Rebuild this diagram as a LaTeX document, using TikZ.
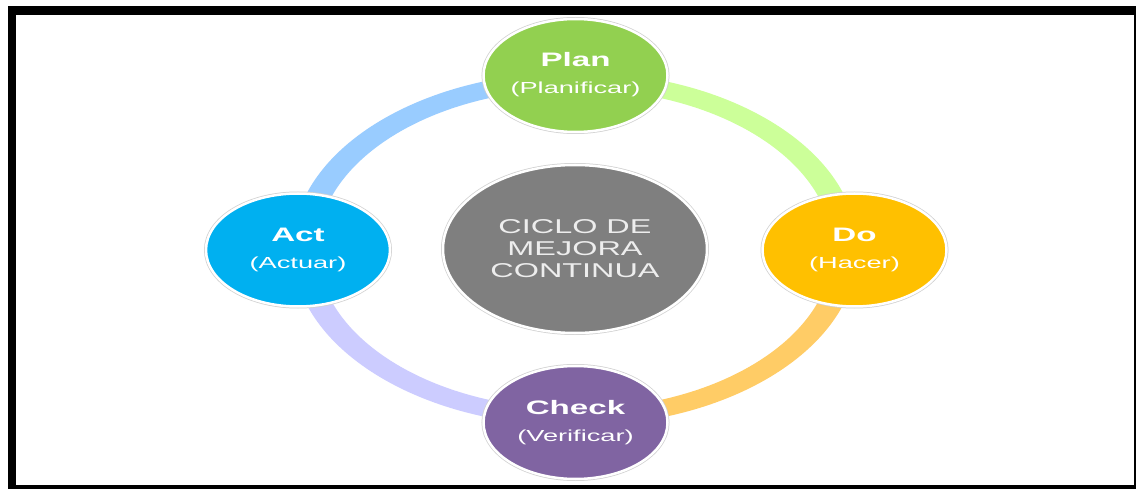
\documentclass[tikz,border=0pt]{standalone}
\usepackage{fontspec}
\setmainfont{Liberation Sans}
\usepackage{graphicx}
\usetikzlibrary{shapes.geometric}
\definecolor{planc}{HTML}{92D050}
\definecolor{doc}{HTML}{FFC000}
\definecolor{checkc}{HTML}{8064A2}
\definecolor{actc}{HTML}{00B0F0}
\definecolor{centerc}{HTML}{7F7F7F}
\definecolor{ringblue}{HTML}{99CCFF}
\definecolor{ringgreen}{HTML}{CCFF99}
\definecolor{ringorange}{HTML}{FFCC66}
\definecolor{ringlav}{HTML}{CCCCFF}
\tikzset{
  pdca/.style={ellipse, minimum width=184pt, minimum height=113pt, inner sep=0pt,
    draw=white, line width=2.5pt, preaction={draw=black!18, line width=4pt}},
  hub/.style={ellipse, minimum width=264pt, minimum height=168pt, inner sep=0pt,
    fill=centerc, draw=white, line width=2.5pt, preaction={draw=black!18, line width=4pt},
    text=white!93!black, align=center, font=\fontsize{20}{22}\selectfont},
  titletxt/.style={anchor=base, text=white, font=\fontsize{19.5}{22}\selectfont\bfseries, inner sep=0pt},
  subtxt/.style={anchor=base, text=white, font=\fontsize{16}{20}\selectfont, inner sep=0pt},
  ringseg/.style={even odd rule}
}
\newcommand{\wide}[1]{\scalebox{1.7}[1]{#1}}
\newcommand{\hubwide}[1]{\scalebox{1.62}[1]{#1}}
\begin{document}
\begin{tikzpicture}[x=1pt,y=-1pt]
\useasboundingbox (0,0) rectangle (1136,489);
% frame
\fill[black] (8,6) rectangle (1136,489);
\fill[white] (16,15) rectangle (1134,484.5);
\coordinate (c) at (575,249);
% ring quadrants
\begin{scope}
  \clip (c) rectangle ++(-330,-210);
  \fill[ringblue,ringseg] (c) ellipse [x radius=282.5pt, y radius=177pt] (c) ellipse [x radius=257.5pt, y radius=160pt];
\end{scope}
\begin{scope}
  \clip (c) rectangle ++(330,-210);
  \fill[ringgreen,ringseg] (c) ellipse [x radius=282.5pt, y radius=177pt] (c) ellipse [x radius=257.5pt, y radius=160pt];
\end{scope}
\begin{scope}
  \clip (c) rectangle ++(330,210);
  \fill[ringorange,ringseg] (c) ellipse [x radius=282.5pt, y radius=177pt] (c) ellipse [x radius=257.5pt, y radius=160pt];
\end{scope}
\begin{scope}
  \clip (c) rectangle ++(-330,210);
  \fill[ringlav,ringseg] (c) ellipse [x radius=282.5pt, y radius=177pt] (c) ellipse [x radius=257.5pt, y radius=160pt];
\end{scope}
% hub
\node[hub] (hub) at (575,249) {\hubwide{CICLO DE}\\\hubwide{MEJORA}\\\hubwide{CONTINUA}};
% stages
\node[pdca, fill=planc] (plan) at (575.5,75.5) {};
\node[pdca, fill=doc] (do) at (854.5,250) {};
\node[pdca, fill=checkc] (check) at (575.5,422.5) {};
\node[pdca, fill=actc] (act) at (298,250) {};
\node[titletxt] (planT) at ([yshift=8.5pt]plan.center) {\wide{Plan}};
\node[subtxt] (planS) at ([yshift=-18pt]plan.center) {\wide{(Planificar)}};
\node[titletxt] (doT) at ([yshift=8.5pt]do.center) {\wide{Do}};
\node[subtxt] (doS) at ([yshift=-18.5pt]do.center) {\wide{(Hacer)}};
\node[titletxt] (checkT) at ([yshift=8.5pt]check.center) {\wide{Check}};
\node[subtxt] (checkS) at ([yshift=-19pt]check.center) {\wide{(Verificar)}};
\node[titletxt] (actT) at ([yshift=8.5pt]act.center) {\wide{Act}};
\node[subtxt] (actS) at ([yshift=-18.5pt]act.center) {\wide{(Actuar)}};
\end{tikzpicture}
\end{document}
